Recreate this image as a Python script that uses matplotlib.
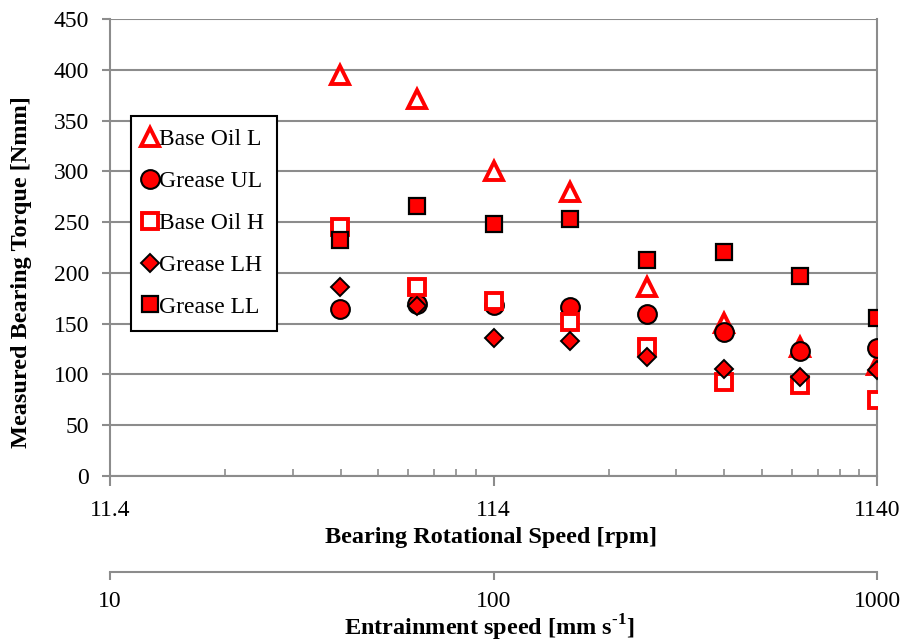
import matplotlib
matplotlib.use("Agg")
import matplotlib.pyplot as plt

plt.rcParams['font.family'] = ['Liberation Serif', 'DejaVu Serif']
plt.rcParams['mathtext.fontset'] = 'custom'
plt.rcParams['mathtext.rm'] = 'Liberation Serif:bold'
plt.rcParams['mathtext.bf'] = 'Liberation Serif:bold'

rpm = [45.4, 72.0, 114, 181, 286, 454, 720, 1140]
base_oil_l = [395, 371, 300, 280, 186, 151, 127, 109]
grease_ul = [164, 169, 168, 166, 160, 142, 123, 126]
base_oil_h = [245, 186, 172, 152, 127, 93, 90, 75]
grease_lh = [186, 167, 136, 133, 117, 105, 97, 104]
grease_ll = [232, 266, 248, 253, 213, 221, 197, 156]

rpm_ticks = [11.4, 114, 1140]
rpm_ticklabels = ['11.4', '114', '1140']
ent_ticks = [10, 100, 1000]
ent_ticklabels = ['10', '100', '1000']
y_ticks = list(range(0, 451, 50))

W, H = 902, 643
fig = plt.figure(figsize=(W / 100, H / 100), dpi=100)
L, R, T, B = 110, 877, 19, 476
ax = fig.add_axes([L / W, 1 - B / H, (R - L) / W, (B - T) / H])

red = '#ff0000'
ax.plot(rpm, base_oil_l, linestyle='none', marker='^', ms=13, mfc='white', mec=red, mew=2.8, label='Base Oil L', zorder=3)
ax.plot(rpm, grease_ul, linestyle='none', marker='o', ms=13.5, mfc=red, mec='black', mew=1.5, label='Grease UL', zorder=3)
ax.plot(rpm, base_oil_h, linestyle='none', marker='s', ms=11, mfc='white', mec=red, mew=2.8, label='Base Oil H', zorder=3)
ax.plot(rpm, grease_lh, linestyle='none', marker='D', ms=9.5, mfc=red, mec='black', mew=1.4, label='Grease LH', zorder=3)
ax.plot(rpm, grease_ll, linestyle='none', marker='s', ms=12, mfc=red, mec='black', mew=1.6, label='Grease LL', zorder=3)

ax.set_xscale('log')
ax.set_xlim(11.4, 1140)
ax.set_ylim(0, 450)
ax.set_yticks(y_ticks)
ax.set_xticks(rpm_ticks)
ax.set_xticklabels(rpm_ticklabels)
minor = [11.4 * k * d for d in (1, 10) for k in range(2, 10)]
ax.set_xticks(minor, minor=True)
ax.set_xticklabels([], minor=True)

grid_c = '#8c8c8c'
ax.grid(axis='y', color=grid_c, linewidth=1.5, zorder=0)
ax.set_axisbelow(True)
for s in ['left', 'bottom', 'right']:
    ax.spines[s].set_color(grid_c)
    ax.spines[s].set_linewidth(1.5)
ax.spines['top'].set_visible(False)
ax.tick_params(axis='y', which='major', direction='out', length=6, width=1.5, color=grid_c, labelsize=17, pad=9)
ax.tick_params(axis='x', which='major', direction='out', length=7, width=1.5, color=grid_c, labelsize=17, pad=10)
ax.tick_params(axis='x', which='minor', direction='in', length=5, width=1.2, color=grid_c)

fig.text(22 / W, 1 - 272 / H, 'Measured Bearing Torque [Nmm]', fontsize=17.5, fontweight='bold',
         rotation=90, ha='center', va='center')
fig.text(491 / W, 1 - 537 / H, 'Bearing Rotational Speed [rpm]', fontsize=17.5, fontweight='bold',
         ha='center', va='center')

leg = ax.legend(loc='upper left', bbox_to_anchor=(0.027, 0.788), borderaxespad=0,
                fontsize=17, labelspacing=0.86, handlelength=0.5, handletextpad=0.15,
                borderpad=0.55, fancybox=False, framealpha=1, edgecolor='black')
leg.get_frame().set_linewidth(1.5)

# secondary axis: entrainment speed
Y2 = 572
ax2 = fig.add_axes([L / W, 1 - Y2 / H, (R - L) / W, 0.001])
ax2.set_xscale('log')
ax2.set_xlim(10, 1000)
ax2.set_yticks([])
for s in ['left', 'top', 'right']:
    ax2.spines[s].set_visible(False)
ax2.spines['bottom'].set_color(grid_c)
ax2.spines['bottom'].set_linewidth(1.5)
ax2.set_xticks(ent_ticks)
ax2.set_xticklabels(ent_ticklabels)
ax2.set_xticks([], minor=True)
ax2.tick_params(axis='x', which='major', direction='out', length=6, width=1.5, color=grid_c, labelsize=17, pad=8)
ax2.patch.set_visible(False)
fig.text(489 / W, 1 - 628 / H, 'Entrainment speed [mm s$^{\\text{-1}}$]', fontsize=17.5, fontweight='bold',
         ha='center', va='center')

fig.savefig('out.png', dpi=100)
